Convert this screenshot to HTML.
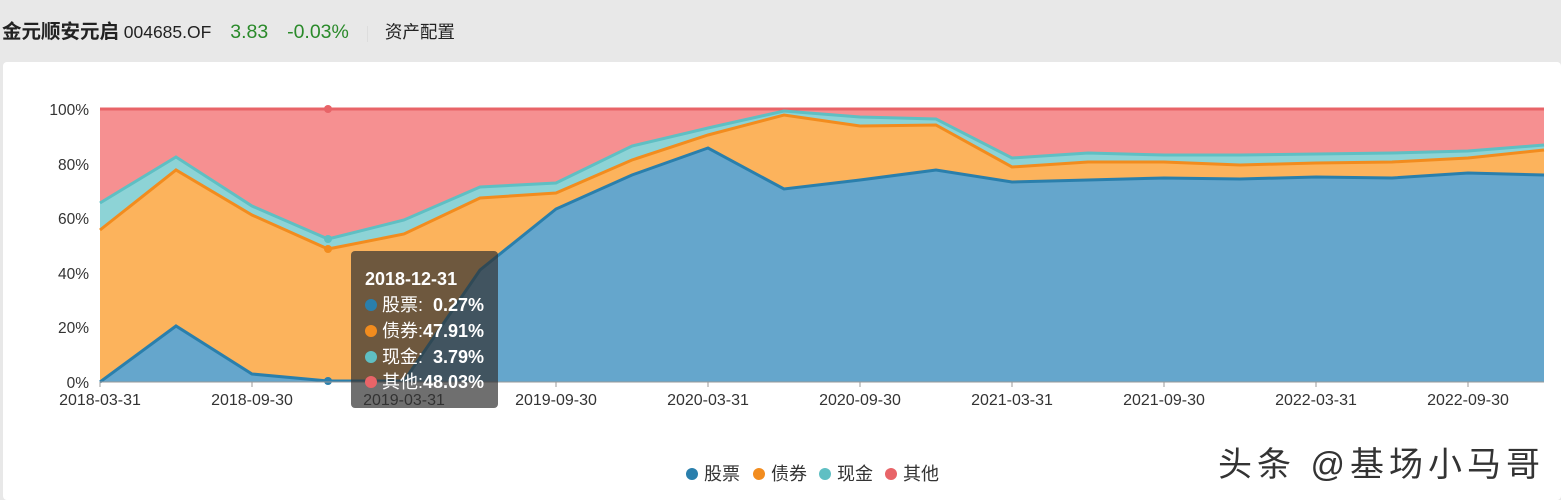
<!DOCTYPE html>
<html><head><meta charset="utf-8"><style>
body{margin:0;width:1561px;height:500px;background:#e8e8e8;font-family:"Liberation Sans","Noto Sans CJK SC",sans-serif;overflow:hidden;position:relative}
.hd{position:absolute;top:15px;left:2px;font-size:17px;color:#222;white-space:nowrap}
.panel{position:absolute;left:3px;top:62px;width:1558px;height:438px;background:#fff;border-radius:4px}
svg{position:absolute;left:0;top:0}
</style></head><body>
<div class="hd"><b style="font-size:19.5px">金元顺安元启</b> <span style="font-size:17.5px">004685.OF</span>&nbsp;&nbsp;&nbsp;&nbsp;<span style="color:#2a8a2a;font-size:19.5px">3.83</span>&nbsp;&nbsp;&nbsp;&nbsp;<span style="color:#2a8a2a;font-size:19.5px">-0.03%</span><span style="display:inline-block;width:1px;height:16px;background:#ddd;margin:0 17px 0 18px;vertical-align:middle"></span><span style="font-size:17.5px">资产配置</span></div>
<div class="panel"></div>
<svg width="1561" height="500" font-family="Liberation Sans, Noto Sans CJK SC, sans-serif">
<rect x="100" y="109" width="1444" height="273" fill="#f69091"/>
<line x1="100" y1="109" x2="1544" y2="109" stroke="#e86468" stroke-width="3"/>
<polygon fill="#8dd3d6" points="100,203 176,157 252,206 328,239 404,220 480,187 556,183 632,146 708,128 784,111 860,117 936,119 1012,158 1088,153 1164,155 1240,155 1316,154 1392,153 1468,151 1544,145 1544,382 100,382"/>
<polygon fill="#fcb35c" points="100,230 176,170 252,215 328,249 404,234 480,198 556,193 632,160 708,135 784,115 860,126 936,125 1012,167 1088,162 1164,162 1240,165 1316,163 1392,162 1468,158 1544,150 1544,382 100,382"/>
<polygon fill="#65a6cc" points="100,382 176,326 252,374 328,381 404,381 480,270 556,209 632,175 708,148 784,189 860,180 936,170 1012,182 1088,180 1164,178 1240,179 1316,177 1392,178 1468,173 1544,175 1544,382 100,382"/>
<polyline fill="none" stroke="#5fbfc3" stroke-width="3" points="100,203 176,157 252,206 328,239 404,220 480,187 556,183 632,146 708,128 784,111 860,117 936,119 1012,158 1088,153 1164,155 1240,155 1316,154 1392,153 1468,151 1544,145"/>
<polyline fill="none" stroke="#f28c1e" stroke-width="3" points="100,230 176,170 252,215 328,249 404,234 480,198 556,193 632,160 708,135 784,115 860,126 936,125 1012,167 1088,162 1164,162 1240,165 1316,163 1392,162 1468,158 1544,150"/>
<polyline fill="none" stroke="#2a7fac" stroke-width="3" points="100,382 176,326 252,374 328,381 404,381 480,270 556,209 632,175 708,148 784,189 860,180 936,170 1012,182 1088,180 1164,178 1240,179 1316,177 1392,178 1468,173 1544,175"/>
<circle cx="328" cy="109" r="4" fill="#e86468"/><circle cx="328" cy="239" r="4" fill="#5fbfc3"/><circle cx="328" cy="249" r="4" fill="#f28c1e"/><circle cx="328" cy="381" r="4" fill="#2a7fac"/>
<line x1="100" y1="382" x2="1544" y2="382" stroke="#999" stroke-width="1"/>
<g font-size="15.5" fill="#333" text-anchor="end">
<text x="89" y="115">100%</text><text x="89" y="170">80%</text><text x="89" y="224">60%</text><text x="89" y="279">40%</text><text x="89" y="333">20%</text><text x="89" y="388">0%</text></g>
<g font-size="16" fill="#333" text-anchor="middle">
<text x="100" y="405">2018-03-31</text><text x="252" y="405">2018-09-30</text><text x="404" y="405">2019-03-31</text><text x="556" y="405">2019-09-30</text><text x="708" y="405">2020-03-31</text><text x="860" y="405">2020-09-30</text><text x="1012" y="405">2021-03-31</text><text x="1164" y="405">2021-09-30</text><text x="1316" y="405">2022-03-31</text><text x="1468" y="405">2022-09-30</text></g>
<g stroke="#999"><line x1="100" y1="382" x2="100" y2="387"/><line x1="252" y1="382" x2="252" y2="387"/><line x1="404" y1="382" x2="404" y2="387"/><line x1="556" y1="382" x2="556" y2="387"/><line x1="708" y1="382" x2="708" y2="387"/><line x1="860" y1="382" x2="860" y2="387"/><line x1="1012" y1="382" x2="1012" y2="387"/><line x1="1164" y1="382" x2="1164" y2="387"/><line x1="1316" y1="382" x2="1316" y2="387"/><line x1="1468" y1="382" x2="1468" y2="387"/></g>
<rect x="351" y="251" width="147" height="157" rx="4" fill="rgba(50,50,50,0.7)"/>
<g fill="#fff" font-size="18"><text x="365" y="285" font-weight="bold">2018-12-31</text>
<circle cx="371" cy="305" r="6" fill="#2a7fac"/><text x="382" y="311">股票: <tspan font-weight="bold">&#160;0.27%</tspan></text>
<circle cx="371" cy="331" r="6" fill="#f28c1e"/><text x="382" y="337">债券:<tspan font-weight="bold">47.91%</tspan></text>
<circle cx="371" cy="357" r="6" fill="#5fbfc3"/><text x="382" y="363">现金: <tspan font-weight="bold">&#160;3.79%</tspan></text>
<circle cx="371" cy="382" r="6" fill="#e86468"/><text x="382" y="388">其他:<tspan font-weight="bold">48.03%</tspan></text></g>
<g font-size="18" fill="#333">
<circle cx="692" cy="474" r="6" fill="#2a7fac"/><text x="704" y="480">股票</text>
<circle cx="759" cy="474" r="6" fill="#f28c1e"/><text x="771" y="480">债券</text>
<circle cx="825" cy="474" r="6" fill="#5fbfc3"/><text x="837" y="480">现金</text>
<circle cx="891" cy="474" r="6" fill="#e86468"/><text x="903" y="480">其他</text></g>
<text x="1218" y="476" font-size="34" letter-spacing="5" fill="#333">头条 @基场小马哥</text>
</svg>
</body></html>
